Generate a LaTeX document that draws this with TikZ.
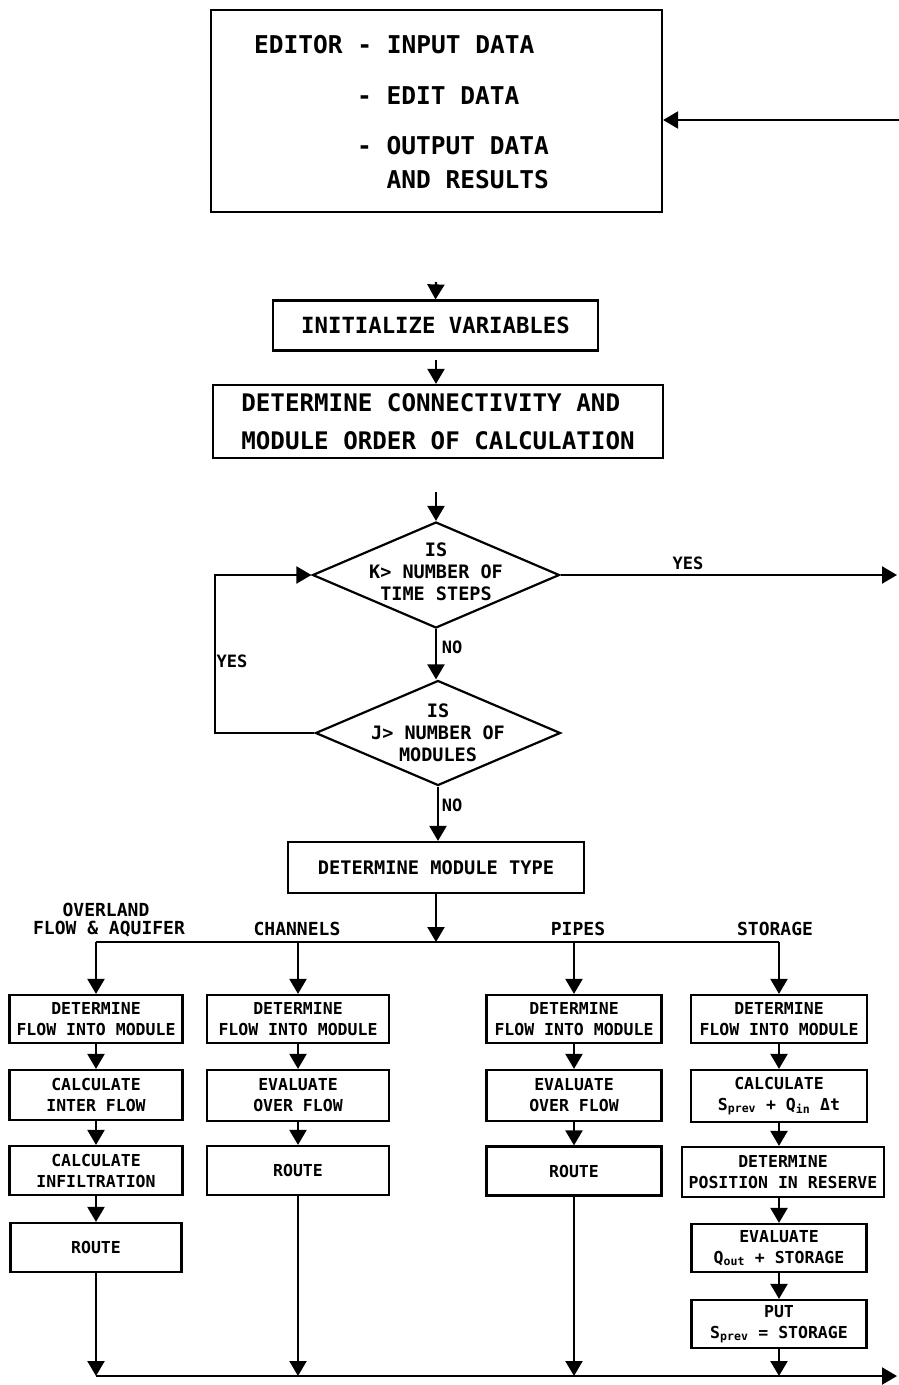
\documentclass[tikz,border=0pt]{standalone}
\usepackage{fontspec}
\setmainfont{DejaVu Sans Mono}
\usetikzlibrary{arrows.meta,shapes.geometric}
\newcommand{\fsz}[2]{\fontsize{#1}{#2}\selectfont}
\begin{document}
\begin{tikzpicture}[x=1pt,y=-1pt,line width=2.2pt,
  box/.style={draw,rectangle,inner sep=0pt,align=center},
  cbox/.style={box,font=\bfseries\fsz{16.5}{21}},
  dia/.style={draw,diamond,inner sep=0pt},
  txt/.style={inner sep=0pt,align=center},
  toptxt/.style={inner sep=0pt,anchor=west,font=\bfseries\fsz{24.5}{25}},
  diatxt/.style={txt,font=\bfseries\fsz{18.5}{22}},
  lbl/.style={inner sep=0pt,align=center,font=\bfseries\fsz{18}{19}},
  yn/.style={inner sep=0pt,font=\bfseries\fsz{17}{17}},
  arr/.style={-{Triangle[width=17pt,length=15pt]}},
]
\useasboundingbox (0,0) rectangle (899,1385);

% ---- editor box
\node[box,minimum width=451pt,minimum height=202pt] (top) at (436.5,111) {};
\node[toptxt] (e1) at (253,45) {EDITOR - INPUT DATA};
\node[toptxt] (e2) at (356,96) {- EDIT DATA};
\node[toptxt] (e3) at (356,146) {- OUTPUT DATA};
\node[toptxt] (e4) at (385.5,180) {AND RESULTS};
\coordinate (rin) at (899,120);
\draw[arr] (rin) -- (rin -| top.east);

% ---- initialize / connectivity
\node[box,minimum width=325pt,minimum height=50pt,font=\bfseries\fsz{22.3}{24}] (init) at (435.5,325.5) {INITIALIZE VARIABLES};
\coordinate (ti) at (436,282);
\draw[arr] (ti) -- (init.north);
\node[box,minimum width=450pt,minimum height=73pt,align=left,font=\bfseries\fsz{24.2}{38}] (det) at (438,421.5) {DETERMINE CONNECTIVITY AND\\MODULE ORDER OF CALCULATION};
\coordinate (td) at (436,360);
\draw[arr] (td) -- (det.north -| td);

% ---- decisions
\node[dia,minimum width=247pt,minimum height=106pt] (d1) at (436,575) {};
\node[diatxt] (d1t) at (436,572) {IS\\K> NUMBER OF\\TIME STEPS};
\coordinate (t1) at (436,492);
\draw[arr] (t1) -- (d1.north);
\coordinate (yesend) at (897,575);
\draw[arr] (d1.east) -- (yesend);
\node[yn] (yes1) at (688,563) {YES};

\node[dia,minimum width=245pt,minimum height=105pt] (d2) at (438,733) {};
\node[diatxt] (d2t) at (438,733) {IS\\J> NUMBER OF\\MODULES};
\draw[arr] (d1.south) -- (d1.south |- d2.north);
\node[yn] (no1) at (452,647) {NO};
\coordinate (loopx) at (215,0);
\draw[arr] (d2.west) -- (d2.west -| loopx) -- (d1.west -| loopx) -- (d1.west);
\node[yn] (yes2) at (232,661) {YES};

% ---- module type
\node[box,minimum width=296pt,minimum height=51pt,font=\bfseries\fsz{18.7}{20}] (mt) at (436,867.5) {DETERMINE MODULE TYPE};
\draw[arr] (d2.south) -- (d2.south |- mt.north);
\node[yn] (no2) at (452,805) {NO};

% ---- column labels
\node[lbl] (l1a) at (106,910) {OVERLAND};
\node[lbl] (l1b) at (109,929) {FLOW \& AQUIFER};
\node[lbl] (l2) at (297,929) {CHANNELS};
\node[lbl] (l3) at (578,929) {PIPES};
\node[lbl] (l4) at (775,929) {STORAGE};

% ---- column 1
\node[cbox,minimum width=173pt,minimum height=48pt] (a1) at (96,1019) {DETERMINE\\FLOW INTO MODULE};
\node[cbox,minimum width=173pt,minimum height=50pt] (a2) at (96,1095) {CALCULATE\\INTER FLOW};
\node[cbox,minimum width=173pt,minimum height=49pt] (a3) at (96,1170.5) {CALCULATE\\INFILTRATION};
\node[cbox,minimum width=171pt,minimum height=49pt] (a4) at (96,1247.5) {ROUTE};
% ---- column 2
\node[cbox,minimum width=182pt,minimum height=48pt] (b1) at (298,1019) {DETERMINE\\FLOW INTO MODULE};
\node[cbox,minimum width=182pt,minimum height=51pt] (b2) at (298,1095.5) {EVALUATE\\OVER FLOW};
\node[cbox,minimum width=182pt,minimum height=49pt] (b3) at (298,1170.5) {ROUTE};
% ---- column 3
\node[cbox,minimum width=175pt,minimum height=48pt] (p1) at (574,1019) {DETERMINE\\FLOW INTO MODULE};
\node[cbox,minimum width=175pt,minimum height=51pt] (p2) at (574,1095.5) {EVALUATE\\OVER FLOW};
\node[cbox,minimum width=175pt,minimum height=49pt] (p3) at (574,1171) {ROUTE};
% ---- column 4
\node[cbox,minimum width=176pt,minimum height=48pt] (s1) at (779,1019) {DETERMINE\\FLOW INTO MODULE};
\node[cbox,minimum width=176pt,minimum height=52pt] (s2) at (779,1096) {CALCULATE\\S\textsubscript{prev} + Q\textsubscript{in} Δt};
\node[cbox,minimum width=202pt,minimum height=50pt] (s3) at (783,1172) {DETERMINE\\POSITION IN RESERVE};
\node[cbox,minimum width=175pt,minimum height=48pt] (s4) at (779,1248) {EVALUATE\\Q\textsubscript{out} + STORAGE};
\node[cbox,minimum width=175pt,minimum height=48pt] (s5) at (779,1324) {PUT\\S\textsubscript{prev} = STORAGE};

% ---- split
\coordinate (split) at (0,942);
\draw[arr] (mt.south) -- (mt.south |- split);
\draw (a1.north |- split) -- (s1.north |- split);
\foreach \n in {a1,b1,p1,s1} \draw[arr] (\n.north |- split) -- (\n.north);
\draw[arr] (a1) -- (a2);
\draw[arr] (a2) -- (a3);
\draw[arr] (a3) -- (a4);
\draw[arr] (b1) -- (b2);
\draw[arr] (b2) -- (b3);
\draw[arr] (p1) -- (p2);
\draw[arr] (p2) -- (p3);
\draw[arr] (s1) -- (s2);
\draw[arr] (s2.south -| s1) -- (s3.north -| s1);
\draw[arr] (s3.south -| s1) -- (s4.north);
\draw[arr] (s4) -- (s5);

% ---- join
\coordinate (join) at (0,1376);
\coordinate (outend) at (897,1376);
\foreach \n in {a4,b3,p3,s5} \draw[arr] (\n.south) -- (\n.south |- join);
\draw[arr] (a4.south |- join) -- (outend);
\end{tikzpicture}
\end{document}
